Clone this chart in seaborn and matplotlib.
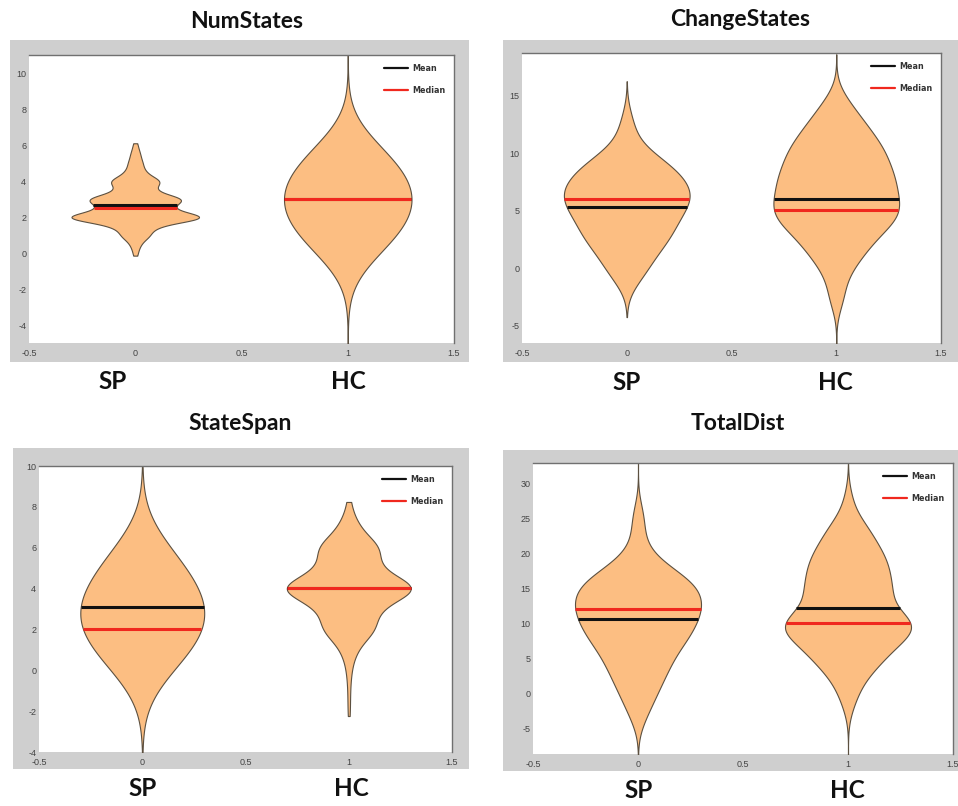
import numpy as np
import pandas as pd
import seaborn as sns
import matplotlib
matplotlib.use("Agg")
import matplotlib.pyplot as plt
from matplotlib.patches import Rectangle
from matplotlib.lines import Line2D

sns.set_theme(style="white")
plt.rcParams["font.family"] = ["Liberation Sans", "DejaVu Sans"]

groups = ["SP", "HC"]
panel_titles = ["NumStates", "ChangeStates", "StateSpan", "TotalDist"]

# ---- sample data (value lists + counts) ----
numstates_sp_vals = [0, 0.5, 1, 1.5, 2, 2.5, 3, 3.5, 4, 4.5, 5, 5.5, 6]
numstates_sp_cnts = [1, 2, 6, 8, 31, 13, 21, 7, 11, 4, 3, 2, 1]
numstates_hc_vals = [0, 1, 2, 3, 4, 5, 6]
numstates_hc_cnts = [6, 10, 12, 13, 12, 10, 6]

changestates_sp_vals = [-1, 0, 1, 2, 3, 4, 5, 6, 7, 8, 9, 10, 11, 12, 13]
changestates_sp_cnts = [2, 3, 3, 5, 6, 6, 7, 9, 8, 7, 6, 3, 1, 1, 1]
changestates_hc_vals = [-3, -2, -1, 0, 1, 2, 3, 4, 5, 6, 7, 8, 9, 10, 11, 12, 13, 14, 15]
changestates_hc_cnts = [1, 1, 1, 2, 3, 4, 5, 7, 8, 7, 7, 7, 6, 6, 5, 4, 3, 2, 1]

statespan_sp_vals = [0, 1, 2, 3, 4, 5, 6]
statespan_sp_cnts = [5, 8, 11, 11, 9, 7, 5]
statespan_hc_vals = [-2, -1, 0, 1, 2, 3, 4, 5, 6, 7, 8]
statespan_hc_cnts = [1, 1, 2, 6, 22, 22, 60, 22, 26, 8, 2]

totaldist_sp_vals = [-4, -2, 0, 2, 4, 6, 8, 10, 12, 14, 16, 18, 20, 22, 24, 26]
totaldist_sp_cnts = [1, 2, 3, 4, 5, 6, 8, 9, 10, 10, 9, 5, 2, 1, 1, 1]
totaldist_hc_vals = [-2, 0, 2, 4, 6, 8, 10, 12, 14, 16, 18, 20, 22, 24, 26, 28]
totaldist_hc_cnts = [1, 2, 3, 6, 8, 11, 16, 7, 9, 8, 8, 7, 5, 4, 1, 1]

# mean / median values (SP, HC)
numstates_mean = [2.7, 3.0]
numstates_median = [2.55, 3.04]
changestates_mean = [5.3, 6.05]
changestates_median = [6.05, 5.05]
statespan_mean = [3.1, 4.02]
statespan_median = [2.0, 4.02]
totaldist_mean = [10.6, 12.2]
totaldist_median = [12.1, 10.1]

ytick_sets = [
    [-4, -2, 0, 2, 4, 6, 8, 10],
    [-5, 0, 5, 10, 15],
    [-4, -2, 0, 2, 4, 6, 8, 10],
    [-5, 0, 5, 10, 15, 20, 25, 30],
]
xtick_vals = [-0.5, 0, 0.5, 1, 1.5]
xtick_labels = ["-0.5", "0", "0.5", "1", "1.5"]

panels = [
    dict(vals=[numstates_sp_vals, numstates_hc_vals], cnts=[numstates_sp_cnts, numstates_hc_cnts],
         mean=numstates_mean, median=numstates_median),
    dict(vals=[changestates_sp_vals, changestates_hc_vals], cnts=[changestates_sp_cnts, changestates_hc_cnts],
         mean=changestates_mean, median=changestates_median),
    dict(vals=[statespan_sp_vals, statespan_hc_vals], cnts=[statespan_sp_cnts, statespan_hc_cnts],
         mean=statespan_mean, median=statespan_median),
    dict(vals=[totaldist_sp_vals, totaldist_hc_vals], cnts=[totaldist_sp_cnts, totaldist_hc_cnts],
         mean=totaldist_mean, median=totaldist_median),
]

# ---- styling / layout (pixels of a 958x806 canvas) ----
kernel_bw = [[0.28, 1.5], [1.3, 1.2], [1.5, 0.6], [2.0, 2.0]]
cuts = [[0.4, 4.0], [2.5, 3.0], [3.0, 0.4], [3.6, 3.5]]
ylims = [(-4.95, 11.0), (-6.5, 18.7), (-4.0, 10.0), (-8.7, 33.0)]
axes_px = [(29, 55, 454, 343), (522, 53, 941, 343), (39, 466, 452, 752), (533, 463, 953, 754)]
frame_px = [(10, 40, 469, 362), (503, 40, 958, 362), (13, 448, 469, 769), (503, 450, 958, 771)]
title_px = [(247, 21), (740, 19), (240, 423), (738, 424)]
group_label_px = [[(113, 382), (348, 382)], [(627, 383), (835, 383)],
                  [(143, 788), (351, 788)], [(639, 790), (847, 790)]]

W, H = 958, 806
fig = plt.figure(figsize=(W / 100, H / 100), dpi=100, facecolor="white")

FILL = "#FCBE82"
EDGE = "#5c5040"
GREY = "#CFCFCF"


def frac(box):
    x0, y0, x1, y1 = box
    return [x0 / W, 1 - y1 / H, (x1 - x0) / W, (y1 - y0) / H]


for i, p in enumerate(panels):
    fr = frac(frame_px[i])
    fig.patches.append(Rectangle((fr[0], fr[1]), fr[2], fr[3], transform=fig.transFigure,
                                 facecolor=GREY, edgecolor="none", zorder=-5))
    ax = fig.add_axes(frac(axes_px[i]))
    ax.set_zorder(2)
    ax.set_facecolor("white")

    for g in range(2):
        data = np.repeat(np.array(p["vals"][g], float), p["cnts"][g])
        factor = kernel_bw[i][g] / np.std(data, ddof=1)
        df = pd.DataFrame({"group": groups[g], "value": data})
        sns.violinplot(data=df, x="group", y="value", order=groups, ax=ax,
                       inner=None, color=FILL, saturation=1, linecolor=EDGE,
                       linewidth=0.8, width=0.6, density_norm="width",
                       bw_method=factor, cut=cuts[i][g], gridsize=300)
        poly = ax.collections[-1]
        verts = poly.get_paths()[0].vertices
        right = verts[verts[:, 0] >= g]
        order = np.argsort(right[:, 1])
        ys, xs = right[order, 1], right[order, 0]
        for val, col in ((p["mean"][g], "#111111"), (p["median"][g], "#F0281E")):
            half = np.interp(val, ys, xs) - g
            ax.hlines(val, g - half, g + half, color=col, lw=2.2, zorder=5)

    ax.set_xlim(-0.5, 1.5)
    ax.set_ylim(*ylims[i])
    ax.set_xticks(xtick_vals)
    ax.set_xticklabels(xtick_labels)
    ax.set_yticks(ytick_sets[i])
    ax.set_yticklabels([str(t) for t in ytick_sets[i]])
    ax.set_xlabel("")
    ax.set_ylabel("")
    ax.tick_params(axis="both", length=0, labelsize=6.5, labelcolor="#444444")
    ax.tick_params(axis="x", pad=4)
    ax.tick_params(axis="y", pad=2)
    for side in ("left", "bottom"):
        ax.spines[side].set_visible(False)
    for side in ("top", "right"):
        ax.spines[side].set_visible(True)
        ax.spines[side].set_color("#707070")
        ax.spines[side].set_linewidth(1.0)

    handles = [Line2D([], [], color="#111111", lw=1.6), Line2D([], [], color="#F0281E", lw=1.6)]
    leg = ax.legend(handles, ["Mean", "Median"], loc="upper right", frameon=False,
                    prop={"family": "DejaVu Sans", "weight": "bold", "size": 5.8},
                    handlelength=3.0, handletextpad=0.5, labelspacing=1.6,
                    borderaxespad=0.6, borderpad=0.5)
    for t in leg.get_texts():
        t.set_color("#333333")

    tx, ty = title_px[i]
    fig.text(tx / W, 1 - ty / H, panel_titles[i], ha="center", va="center",
             family="Lato", weight="bold", size=16.5, color="#111111")
    for g in range(2):
        lx, ly = group_label_px[i][g]
        fig.text(lx / W, 1 - ly / H, groups[g], ha="center", va="center",
                 family="Lato", weight="bold", size=17.5, color="#111111")

fig.savefig("out.png", dpi=100, facecolor="white")
